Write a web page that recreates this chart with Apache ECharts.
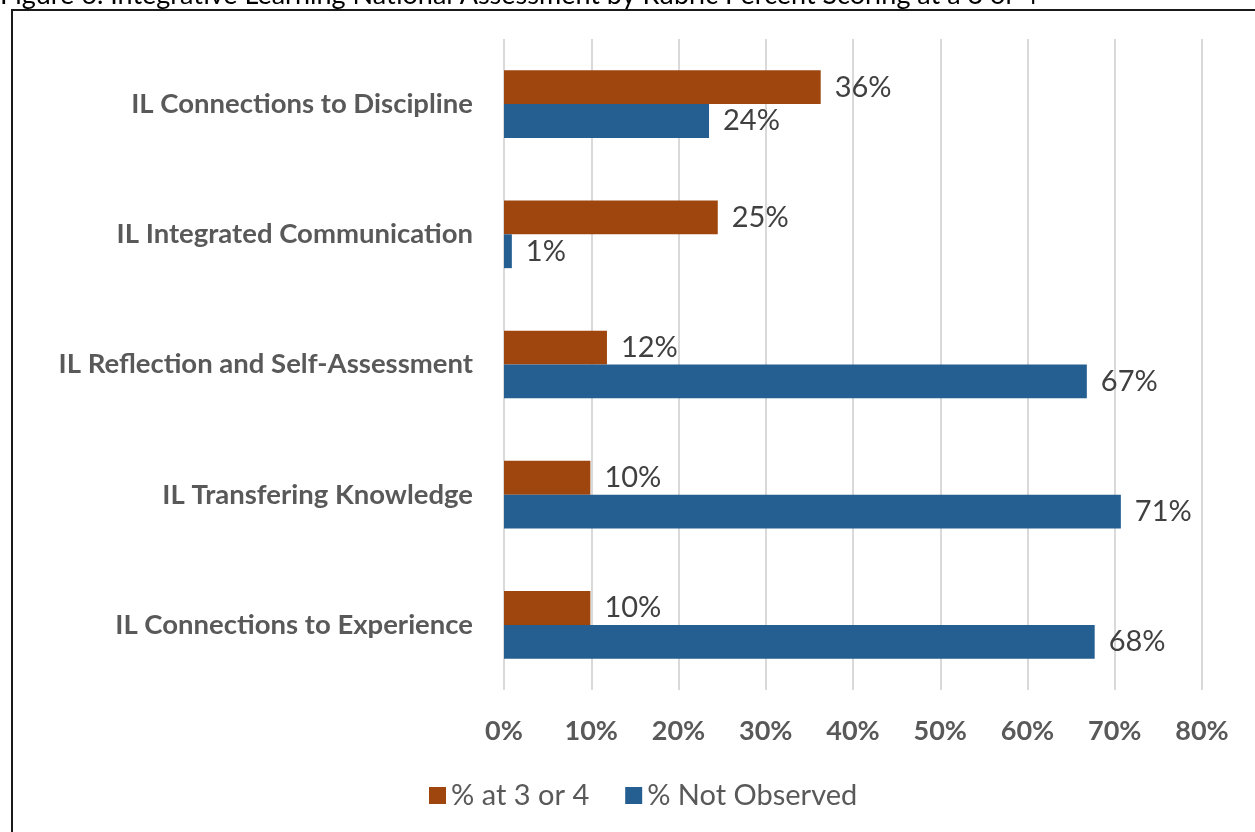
<!DOCTYPE html>
<html>
<head>
<meta charset="utf-8">
<title>Integrative Learning National Assessment</title>
<script src="https://cdn.jsdelivr.net/npm/echarts@6/dist/echarts.min.js"></script>
<style>
  html, body { margin: 0; padding: 0; background: #ffffff; }
  #chart { width: 1255px; height: 832px; }
</style>
</head>
<body>
<div id="chart"></div>
<script>
// Rubric dimensions, listed top to bottom
const categories = [
  'IL Connections to Discipline',
  'IL Integrated Communication',
  'IL Reflection and Self-Assessment',
  'IL Transfering Knowledge',
  'IL Connections to Experience'
];
const seriesNames = ['% at 3 or 4', '% Not Observed'];
// Percent of work samples per dimension
const scoredThreeOrFour = [36.3, 24.5, 11.8, 9.9, 9.9];
const notObserved = [23.5, 0.9, 66.8, 70.7, 67.7];
const xTicks = [0, 10, 20, 30, 40, 50, 60, 70, 80];
const captionText = 'Figure 6. Integrative Learning National Assessment by Rubric Percent Scoring at a 3 or 4';

const FONT = 'Lato, "Open Sans", sans-serif';
const chart = echarts.init(document.getElementById('chart'), null, { renderer: 'canvas' });

const valueLabel = {
  show: true,
  position: 'right',
  distance: 14,
  fontFamily: FONT,
  fontSize: 29,
  color: '#404040',
  formatter: p => Math.round(p.value) + '%'
};

chart.setOption({
  animation: false,
  backgroundColor: '#ffffff',
  graphic: [
    {
      type: 'text',
      left: 0,
      top: -18,
      style: { text: captionText, fontFamily: FONT, fontSize: 27, fill: '#000000' },
      z: 10
    },
    {
      type: 'rect',
      shape: { x: 12, y: 10, width: 1300, height: 900 },
      style: { fill: null, stroke: '#1a1a1a', lineWidth: 2 },
      z: 10
    }
  ],
  grid: { left: 504, right: 53, top: 39, bottom: 142, containLabel: false },
  legend: {
    data: seriesNames,
    bottom: 17,
    left: 424,
    itemWidth: 17,
    itemHeight: 17,
    itemGap: 36,
    icon: 'rect',
    textStyle: { fontFamily: FONT, fontSize: 29, color: '#595959' }
  },
  xAxis: {
    type: 'value',
    min: xTicks[0],
    max: xTicks[xTicks.length - 1],
    interval: 10,
    axisLine: { show: false },
    axisTick: { show: false },
    splitLine: { show: true, lineStyle: { color: '#d9d9d9', width: 2 } },
    axisLabel: {
      margin: 28,
      fontFamily: FONT,
      fontSize: 27,
      fontWeight: 'bold',
      color: '#595959',
      formatter: v => v + '%'
    }
  },
  yAxis: {
    type: 'category',
    data: categories,
    inverse: true,
    axisLine: { show: false },
    axisTick: { show: false },
    axisLabel: {
      margin: 31,
      fontFamily: FONT,
      fontSize: 27.5,
      fontWeight: 'bold',
      color: '#595959'
    }
  },
  series: [
    {
      name: seriesNames[0],
      type: 'bar',
      data: scoredThreeOrFour,
      itemStyle: { color: '#9e460e' },
      barGap: '0%',
      barCategoryGap: '48%',
      label: valueLabel
    },
    {
      name: seriesNames[1],
      type: 'bar',
      data: notObserved,
      itemStyle: { color: '#255e91' },
      barGap: '0%',
      barCategoryGap: '48%',
      label: valueLabel
    }
  ]
});
</script>
</body>
</html>
